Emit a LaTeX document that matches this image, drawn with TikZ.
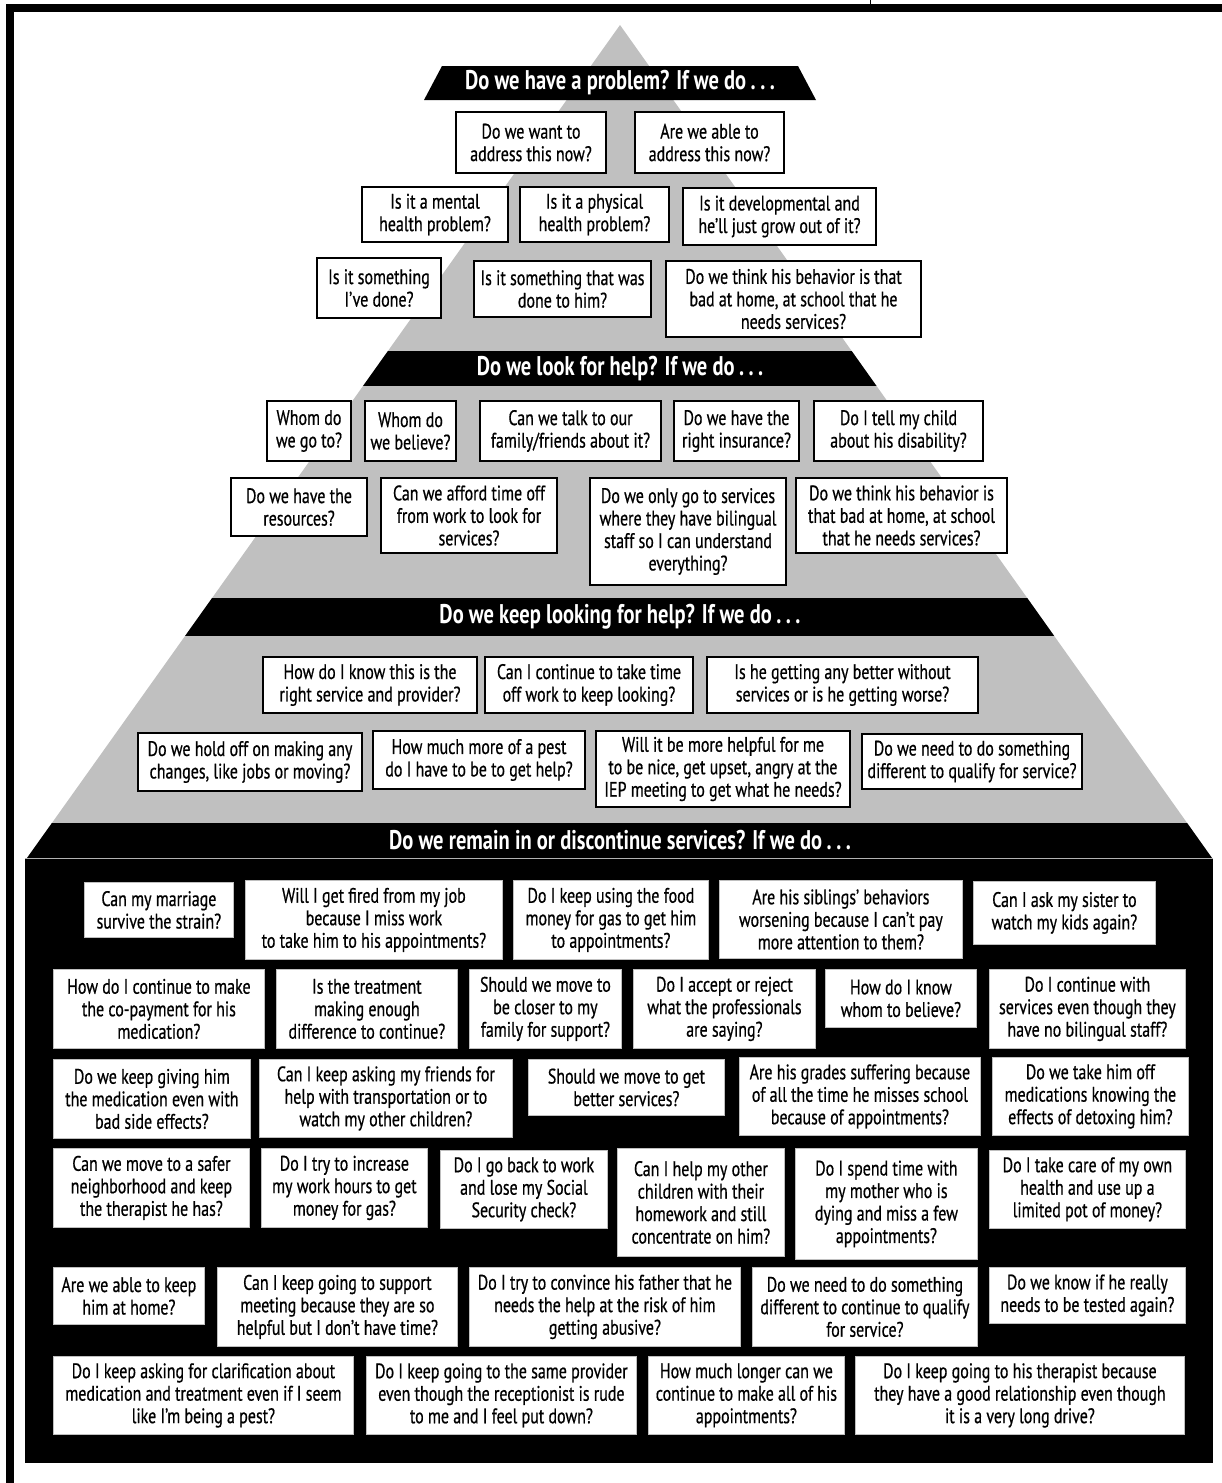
\documentclass[tikz,border=0pt]{standalone}
\usepackage{fontspec}
\setmainfont{PT Sans}[FakeStretch=0.76, UprightFeatures={FakeBold=0.6}]
\definecolor{pyrgray}{RGB}{192,192,192}
\tikzset{
  qbox/.style={draw=black, line width=2pt, fill=white, align=center, inner sep=1pt,
    anchor=north west, font=\fontsize{21}{22.5}\selectfont},
  wbox/.style={draw=gray!50, line width=0.8pt, fill=white, align=center, inner sep=1pt,
    anchor=north west, font=\fontsize{21}{22.5}\selectfont},
  banner/.style={text=white, inner sep=0pt, font=\bfseries\fontsize{27}{28}\selectfont}
}
\begin{document}
\begin{tikzpicture}[x=1pt, y=-1pt]
    \useasboundingbox (0,0) rectangle (1222,1483);

    % Frame round the page
    \fill (6,4) rectangle (1222,12);
    \fill (6,4) rectangle (14,1483);
    \draw[line width=1pt] (870,0) -- (870,4);

    % The grey pyramid and the black bands across it
    \fill[pyrgray] (620,25) -- (1212,858) -- (27,858) -- cycle;
    \begin{scope}
        \clip (620,25) -- (1212,858) -- (27,858) -- cycle;
        \fill (0,351) rectangle (1222,386);
        \fill (0,598) rectangle (1222,636);
        \fill (0,823) rectangle (1222,858);
    \end{scope}
    \fill (442,66) -- (798,66) -- (816,100) -- (424,100) -- cycle;

    % The black base
    \fill (25,858) rectangle (1213,1463);
    \draw[gray!60, line width=1pt] (25,858) -- (1213,858);

    % Band titles
    \node[banner] (t1) at (620,83) {Do we have a problem? If we do\,.\,.\,.};
    \node[banner] (t2) at (620,368.5) {Do we look for help? If we do\,.\,.\,.};
    \node[banner] (t3) at (620,617) {Do we keep looking for help? If we do\,.\,.\,.};
    \node[banner] (t4) at (620,840.5) {Do we remain in or discontinue services? If we do\,.\,.\,.};

    % Do we have a problem?
    \node[qbox, minimum width=150, minimum height=61] (q11) at (455,111) {Do we want to\\address this now?};
    \node[qbox, minimum width=149, minimum height=61] (q12) at (634,111) {Are we able to\\address this now?};
    \node[qbox, minimum width=146, minimum height=55] (q21) at (361,186) {Is it a mental\\health problem?};
    \node[qbox, minimum width=149, minimum height=55] (q22) at (519,186) {Is it a physical\\health problem?};
    \node[qbox, minimum width=193, minimum height=57] (q23) at (682,187) {Is it developmental and\\he’ll just grow out of it?};
    \node[qbox, minimum width=124, minimum height=60] (q31) at (316,257) {Is it something\\I’ve done?};
    \node[qbox, minimum width=177, minimum height=56] (q32) at (473,260) {Is it something that was\\done to him?};
    \node[qbox, minimum width=255, minimum height=76] (q33) at (665,260) {Do we think his behavior is that\\bad at home, at school that he\\needs services?};

    % Do we look for help?
    \node[qbox, minimum width=84, minimum height=60] (r11) at (266,400) {Whom do\\we go to?};
    \node[qbox, minimum width=91, minimum height=60] (r12) at (364,400) {Whom do\\we believe?};
    \node[qbox, minimum width=181, minimum height=60] (r13) at (479,400) {Can we talk to our\\family/friends about it?};
    \node[qbox, minimum width=125, minimum height=60] (r14) at (673,400) {Do we have the\\right insurance?};
    \node[qbox, minimum width=169, minimum height=60] (r15) at (813,400) {Do I tell my child\\about his disability?};
    \node[qbox, minimum width=136, minimum height=58] (r21) at (230,477) {Do we have the\\resources?};
    \node[qbox, minimum width=176, minimum height=75] (r22) at (380,477) {Can we afford time off\\from work to look for\\services?};
    \node[qbox, minimum width=196, minimum height=107] (r23) at (589,477) {Do we only go to services\\where they have bilingual\\staff so I can understand\\everything?};
    \node[qbox, minimum width=211, minimum height=75] (r24) at (795,477) {Do we think his behavior is\\that bad at home, at school\\that he needs services?};

    % Do we keep looking for help?
    \node[qbox, minimum width=214, minimum height=56] (s11) at (262,656) {How do I know this is the\\right service and provider?};
    \node[qbox, minimum width=208, minimum height=56] (s12) at (484,656) {Can I continue to take time\\off work to keep looking?};
    \node[qbox, minimum width=271, minimum height=56] (s13) at (706,656) {Is he getting any better without\\services or is he getting worse?};
    \node[qbox, minimum width=224, minimum height=58] (s21) at (137,732) {Do we hold off on making any\\changes, like jobs or moving?};
    \node[qbox, minimum width=212, minimum height=58] (s22) at (372,730) {How much more of a pest\\do I have to be to get help?};
    \node[qbox, minimum width=254, minimum height=76] (s23) at (595,730) {Will it be more helpful for me\\to be nice, get upset, angry at the\\IEP meeting to get what he needs?};
    \node[qbox, minimum width=220, minimum height=55] (s24) at (861,733) {Do we need to do something\\different to qualify for service?};

    % Do we remain in or discontinue services?
    \node[wbox, minimum width=149, minimum height=55] (b11) at (84,882) {Can my marriage\\survive the strain?};
    \node[wbox, minimum width=257, minimum height=79] (b12) at (245,880) {Will I get fired from my job\\because I miss work\\to take him to his appointments?};
    \node[wbox, minimum width=195, minimum height=79] (b13) at (513,880) {Do I keep using the food\\money for gas to get him\\to appointments?};
    \node[wbox, minimum width=243, minimum height=78] (b14) at (719,880) {Are his siblings’ behaviors\\worsening because I can’t pay\\more attention to them?};
    \node[wbox, minimum width=182, minimum height=63] (b15) at (973,881) {Can I ask my sister to\\watch my kids again?};

    \node[wbox, minimum width=211, minimum height=79] (b21) at (53,969) {How do I continue to make\\the co-payment for his\\medication?};
    \node[wbox, minimum width=181, minimum height=79] (b22) at (276,969) {Is the treatment\\making enough\\difference to continue?};
    \node[wbox, minimum width=152, minimum height=79] (b23) at (469,969) {Should we move to\\be closer to my\\family for support?};
    \node[wbox, minimum width=182, minimum height=79] (b24) at (633,969) {Do I accept or reject\\what the professionals\\are saying?};
    \node[wbox, minimum width=151, minimum height=58] (b25) at (825,969) {How do I know\\whom to believe?};
    \node[wbox, minimum width=196, minimum height=79] (b26) at (989,969) {Do I continue with\\services even though they\\have no bilingual staff?};

    \node[wbox, minimum width=197, minimum height=79] (b31) at (53,1059) {Do we keep giving him\\the medication even with\\bad side effects?};
    \node[wbox, minimum width=253, minimum height=78] (b32) at (259,1059) {Can I keep asking my friends for\\help with transportation or to\\watch my other children?};
    \node[wbox, minimum width=196, minimum height=56] (b33) at (528,1059) {Should we move to get\\better services?};
    \node[wbox, minimum width=241, minimum height=78] (b34) at (739,1057) {Are his grades suffering because\\of all the time he misses school\\because of appointments?};
    \node[wbox, minimum width=196, minimum height=78] (b35) at (992,1057) {Do we take him off\\medications knowing the\\effects of detoxing him?};

    \node[wbox, minimum width=196, minimum height=79] (b41) at (53,1148) {Can we move to a safer\\neighborhood and keep\\the therapist he has?};
    \node[wbox, minimum width=166, minimum height=79] (b42) at (261,1148) {Do I try to increase\\my work hours to get\\money for gas?};
    \node[wbox, minimum width=167, minimum height=78] (b43) at (440,1150) {Do I go back to work\\and lose my Social\\Security check?};
    \node[wbox, minimum width=167, minimum height=108] (b44) at (617,1148) {Can I help my other\\children with their\\homework and still\\concentrate on him?};
    \node[wbox, minimum width=182, minimum height=111] (b45) at (795,1148) {Do I spend time with\\my mother who is\\dying and miss a few\\appointments?};
    \node[wbox, minimum width=196, minimum height=78] (b46) at (989,1150) {Do I take care of my own\\health and use up a\\limited pot of money?};

    \node[wbox, minimum width=151, minimum height=57] (b51) at (53,1267) {Are we able to keep\\him at home?};
    \node[wbox, minimum width=240, minimum height=79] (b52) at (217,1267) {Can I keep going to support\\meeting because they are so\\helpful but I don’t have time?};
    \node[wbox, minimum width=271, minimum height=79] (b53) at (469,1267) {Do I try to convince his father that he\\needs the help at the risk of him\\getting abusive?};
    \node[wbox, minimum width=225, minimum height=79] (b54) at (752,1267) {Do we need to do something\\different to continue to qualify\\for service?};
    \node[wbox, minimum width=196, minimum height=56] (b55) at (989,1267) {Do we know if he really\\needs to be tested again?};

    \node[wbox, minimum width=300, minimum height=78] (b61) at (53,1356) {Do I keep asking for clarification about\\medication and treatment even if I seem\\like I’m being a pest?};
    \node[wbox, minimum width=270, minimum height=78] (b62) at (366,1356) {Do I keep going to the same provider\\even though the receptionist is rude\\to me and I feel put down?};
    \node[wbox, minimum width=196, minimum height=78] (b63) at (648,1356) {How much longer can we\\continue to make all of his\\appointments?};
    \node[wbox, minimum width=329, minimum height=78] (b64) at (855,1356) {Do I keep going to his therapist because\\they have a good relationship even though\\it is a very long drive?};
\end{tikzpicture}
\end{document}
